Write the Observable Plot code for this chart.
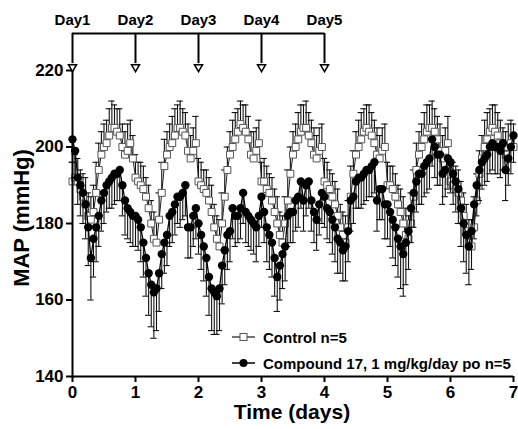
<!DOCTYPE html>
<html><head><meta charset="utf-8">
<script src="https://cdn.jsdelivr.net/npm/d3@7"></script>
<script src="https://cdn.jsdelivr.net/npm/@observablehq/plot@0.6"></script>
<style>
body{margin:0;background:#fff}
#chart{width:518px;height:429px}
</style>
</head><body><div id="chart"></div>
<script>
// Hourly MAP (mmHg), 0..168 h
const controlMAP = [
191,192,191,189,187,185,182,181,183,188,194,198,200,201,203,205,205,204,203,200,198,199,201,197,
192,191,190,189,187,184,180,176,175,181,188,195,198,200,201,203,205,205,204,203,199,197,199,201,
191,190,189,188,186,183,179,176,174,180,187,194,198,200,202,204,206,205,204,202,198,197,199,201,
191,191,189,188,186,183,180,177,175,180,186,193,198,200,202,204,205,205,203,201,198,197,199,200,
191,190,189,187,185,182,179,177,175,179,187,193,198,200,202,204,205,204,203,201,198,197,199,200,
190,190,189,187,185,183,180,177,176,180,187,194,198,200,202,204,205,205,204,202,199,197,199,201,
191,190,189,188,186,182,178,175,174,179,186,193,197,200,202,204,205,204,203,201,199,198,200,201,
200];
const controlSEM = [
5,6,6,5,6,7,6,6,7,8,7,6,6,6,7,7,6,6,7,6,6,7,6,6,
6,5,6,6,5,6,6,7,6,7,8,7,6,6,7,7,6,7,6,6,7,6,6,7,
6,6,5,6,6,7,6,6,7,8,7,6,6,7,7,6,6,6,7,6,6,7,6,6,
5,6,6,5,6,6,7,6,7,7,8,7,6,6,7,7,6,7,6,6,7,6,6,6,
6,6,5,6,6,7,6,6,7,7,8,6,6,7,7,6,6,7,6,6,7,6,6,6,
6,5,6,6,5,6,7,7,6,8,7,7,6,6,7,7,6,7,6,6,7,6,6,7,
5,6,6,6,5,6,7,6,7,8,7,6,6,7,7,6,6,7,6,6,6,6,6,6,
6];
const compoundMAP = [
202,199,192,190,188,185,179,171,176,179,182,186,188,190,191,192,193,193,194,190,186,184,183,182,
182,181,179,175,171,167,164,162,163,167,172,175,177,182,183,185,187,187,188,190,179,179,182,184,
180,177,174,171,166,163,162,161,163,169,173,177,178,184,182,182,184,188,183,182,181,180,179,182,
187,183,179,177,175,171,166,169,172,174,182,183,183,186,187,191,186,190,191,186,183,181,185,188,
187,184,183,181,179,176,175,173,174,178,186,187,191,192,192,193,194,194,195,196,186,189,189,185,
185,183,181,179,176,174,172,175,178,184,188,191,193,193,195,196,197,202,200,198,198,193,194,197,
196,193,191,189,184,180,177,174,178,185,190,194,196,197,198,200,201,200,200,199,201,194,197,200,
203];
const compoundSEM = [
6,7,7,8,8,9,10,11,10,9,8,8,8,7,7,8,8,7,8,8,9,8,8,8,
8,8,9,9,10,11,11,12,11,10,9,8,8,8,8,8,7,8,7,8,8,8,8,8,
8,9,9,10,10,11,11,10,11,10,9,9,8,8,8,7,8,8,8,8,8,8,9,8,
8,8,9,9,9,10,9,9,9,9,8,8,8,8,8,7,8,8,7,8,8,8,8,8,
8,8,8,9,9,9,8,8,9,8,8,7,7,8,8,8,8,7,8,8,8,8,8,9,
9,9,10,10,10,11,11,11,10,9,9,8,8,8,8,8,8,7,8,8,8,8,7,8,
8,8,8,9,10,10,10,10,10,9,8,8,7,7,7,7,7,7,7,7,7,8,7,7,
7];
const dayLabels = ["Day1","Day2","Day3","Day4","Day5"];
const dayStart = [0,1,2,3,4];
const xTicks = [0,1,2,3,4,5,6,7];
const yTicks = [140,160,180,200,220];
const legendLabels = ["Control n=5","Compound 17, 1 mg/kg/day po n=5"];

const hours = d3.range(controlMAP.length);
const control = hours.map(i => ({x: i/24, y: controlMAP[i], e: controlSEM[i]}));
const compound = hours.map(i => ({x: i/24, y: compoundMAP[i], e: compoundSEM[i]}));
const days = dayStart.map((d,i) => ({x: d, label: dayLabels[i]}));

const cap = 0.05;      // half width of error-bar caps (days)
const bracketY = 229.7; // annotation bracket level (mmHg units, above plot)
const font = "Liberation Sans, Arial, Helvetica, sans-serif";

const chart = Plot.plot({
  width: 518, height: 429,
  marginLeft: 72, marginRight: 5, marginTop: 70, marginBottom: 53,
  style: {fontFamily: font, fontWeight: "bold", fontSize: "17px", color: "#000", background: "#fff", overflow: "visible"},
  x: {domain: [0, 7]},
  y: {domain: [140, 220]},
  marks: [
    // Control
    Plot.ruleX(control, {x: "x", y1: "y", y2: d => d.y + d.e, stroke: "#111", strokeWidth: 1.1}),
    Plot.ruleY(control, {y: d => d.y + d.e, x1: d => d.x - cap, x2: d => d.x + cap, stroke: "#111", strokeWidth: 1.1}),
    Plot.line(control, {x: "x", y: "y", stroke: "#222", strokeWidth: 1}),
    Plot.dot(control, {x: "x", y: "y", symbol: "square", r: 3.9, stroke: "#555", fill: "#fff", strokeWidth: 1}),
    // Compound
    Plot.ruleX(compound, {x: "x", y1: "y", y2: d => d.y - d.e, stroke: "#111", strokeWidth: 1.1}),
    Plot.ruleY(compound, {y: d => d.y - d.e, x1: d => d.x - cap, x2: d => d.x + cap, stroke: "#111", strokeWidth: 1.1}),
    Plot.line(compound, {x: "x", y: "y", stroke: "#000", strokeWidth: 1.3}),
    Plot.dot(compound, {x: "x", y: "y", r: 4.2, fill: "#000", stroke: "none"}),
    // Axes
    Plot.axisX({ticks: xTicks, tickSize: 6, tickPadding: 3, strokeWidth: 2, label: null, tickFormat: d => d, fontSize: 17}),
    Plot.axisY({ticks: yTicks, tickSize: 6, tickPadding: 3, strokeWidth: 2, label: null, fontSize: 17}),
    Plot.ruleX([0], {y1: 140, y2: 220, strokeWidth: 2, stroke: "#000"}),
    Plot.ruleY([140], {x1: 0, x2: 7, strokeWidth: 2, stroke: "#000"}),
    // Day annotations
    Plot.ruleY([bracketY], {x1: dayStart[0], x2: dayStart[dayStart.length - 1], strokeWidth: 2, stroke: "#000"}),
    Plot.ruleX(days, {x: "x", y1: bracketY, y2: 221.8, strokeWidth: 2, stroke: "#000"}),
    Plot.dot(days, {x: "x", y: 220.9, symbol: "triangle", rotate: 180, r: 3, stroke: "#000", strokeWidth: 1.5, fill: "#fff"}),
    Plot.text(days, {x: "x", y: 233.2, text: "label", fontSize: 15, fontWeight: "bold"})
  ]
});

const svg = d3.select(chart);
svg.append("text")
  .attr("transform", "translate(29,218) rotate(-90)")
  .attr("text-anchor", "middle")
  .attr("font-family", font).attr("font-weight", "bold").attr("font-size", 22)
  .attr("fill", "#000").text("MAP (mmHg)");
svg.append("text")
  .attr("x", 292).attr("y", 419)
  .attr("text-anchor", "middle")
  .attr("font-family", font).attr("font-weight", "bold").attr("font-size", 21)
  .attr("fill", "#000").text("Time (days)");

const leg = svg.append("g").attr("font-family", font).attr("font-weight", "bold").attr("font-size", 15).attr("text-anchor", "start");
const rows = [{y: 337, label: legendLabels[0], type: "square"}, {y: 363, label: legendLabels[1], type: "circle"}];
rows.forEach(r => {
  leg.append("line").attr("x1", 232).attr("x2", 255).attr("y1", r.y).attr("y2", r.y)
    .attr("stroke", r.type === "square" ? "#444" : "#000").attr("stroke-width", 1.5);
  if (r.type === "square") {
    leg.append("rect").attr("x", 240).attr("y", r.y - 3.5).attr("width", 7).attr("height", 7)
      .attr("fill", "#fff").attr("stroke", "#555");
  } else {
    leg.append("circle").attr("cx", 243.5).attr("cy", r.y).attr("r", 4).attr("fill", "#000");
  }
  leg.append("text").attr("x", 263).attr("y", r.y + 5.5).attr("text-anchor", "start").attr("fill", "#000").text(r.label);
});

document.getElementById("chart").appendChild(chart);
</script>
</body></html>
